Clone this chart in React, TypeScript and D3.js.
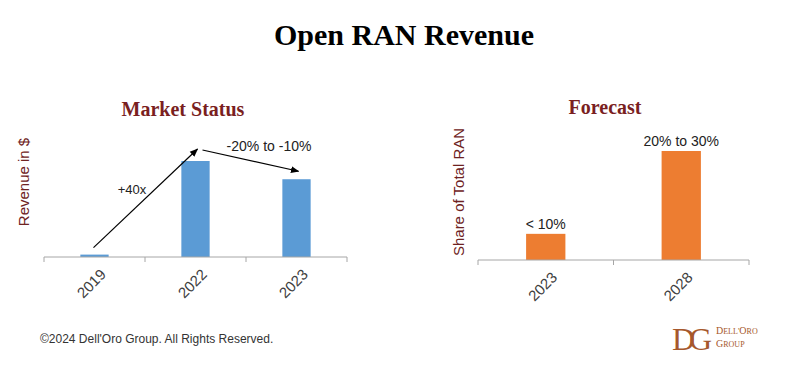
import React, { useRef, useEffect } from 'react';
import * as d3 from 'd3';

// Market status (relative revenue, arbitrary units)
const marketYears = ['2019', '2022', '2023'];
const marketRevenue = [2.5, 100, 81];

// Forecast (share of total RAN, %)
const forecastYears = ['2023', '2028'];
const forecastShare = [6, 25];
const forecastLabels = ['< 10%', '20% to 30%'];

const growthLabel = '+40x';
const declineLabel = '-20% to -10%';

const W = 799;
const H = 373;

const style = {
  titleFont: '"Liberation Serif", "Times New Roman", serif',
  sansFont: '"Liberation Sans", Arial, sans-serif',
  titleColor: '#7a1f1f',
  axisLabelColor: '#6e2222',
  tickColor: '#404040',
  axisLine: '#a6a6a6',
  blue: '#5b9bd5',
  orange: '#ed7d31',
  logo: '#a6582c',
};

const App: React.FC = () => {
  const leftAxis = useRef<SVGGElement>(null);
  const rightAxis = useRef<SVGGElement>(null);

  // left panel scales
  const xL = d3.scaleBand<string>().domain(marketYears).range([44, 347]).paddingInner(0.72).paddingOuter(0.36);
  const yL = d3.scaleLinear().domain([0, 100]).range([257, 161]);
  // right panel scales
  const xR = d3.scaleBand<string>().domain(forecastYears).range([478, 749]).paddingInner(0.71).paddingOuter(0.355);
  const yR = d3.scaleLinear().domain([0, 25]).range([260, 151]);

  useEffect(() => {
    const drawAxis = (g: SVGGElement | null, x: d3.ScaleBand<string>, y0: number, cats: string[]) => {
      if (!g) return;
      const sel = d3.select(g);
      sel.selectAll('*').remove();
      const [r0, r1] = x.range();
      const step = (r1 - r0) / cats.length;
      sel.append('line')
        .attr('x1', r0).attr('x2', r1).attr('y1', y0).attr('y2', y0)
        .attr('stroke', style.axisLine).attr('stroke-width', 1);
      d3.range(cats.length + 1).forEach(i => {
        sel.append('line')
          .attr('x1', r0 + i * step).attr('x2', r0 + i * step)
          .attr('y1', y0).attr('y2', y0 + 5)
          .attr('stroke', style.axisLine);
      });
      cats.forEach(c => {
        const cx = x(c)! + x.bandwidth() / 2;
        sel.append('text')
          .attr('transform', `translate(${cx + 5},${y0 + 11}) rotate(-45)`)
          .attr('text-anchor', 'end')
          .attr('dy', '0.7em')
          .attr('font-family', style.sansFont)
          .attr('font-size', 15)
          .attr('fill', style.tickColor)
          .text(c);
      });
    };
    drawAxis(leftAxis.current, xL, yL(0), marketYears);
    drawAxis(rightAxis.current, xR, yR(0), forecastYears);
  }, []);

  const cx = (s: d3.ScaleBand<string>, k: string) => s(k)! + s.bandwidth() / 2;

  // arrow endpoints derived from bars
  const a1 = { x1: cx(xL, '2019') - 1, y1: yL(marketRevenue[0]) - 7, x2: cx(xL, '2022') + 2, y2: yL(marketRevenue[1]) - 12 };
  const a2 = { x1: cx(xL, '2022') + 7, y1: yL(marketRevenue[1]) - 11, x2: cx(xL, '2023') + 2, y2: yL(marketRevenue[2]) - 8 };

  return (
    <svg width={W} height={H} style={{ position: 'absolute', left: 0, top: 0, background: '#fff' }}>
      <defs>
        <marker id="arr" viewBox="0 0 10 10" refX="9" refY="5" markerWidth="7" markerHeight="7" orient="auto">
          <path d="M0,1 L10,5 L0,9 z" fill="#000" />
        </marker>
      </defs>

      <text x={404} y={45} textAnchor="middle" fontFamily={style.titleFont} fontWeight="bold" fontSize={30} fill="#000">
        Open RAN Revenue
      </text>

      {/* Market status panel */}
      <text x={183} y={116} textAnchor="middle" fontFamily={style.titleFont} fontWeight="bold" fontSize={20} fill={style.titleColor}>
        Market Status
      </text>
      <text transform={`translate(29,182) rotate(-90)`} textAnchor="middle" fontFamily={style.sansFont} fontSize={15} fill={style.axisLabelColor}>
        Revenue in $
      </text>
      {marketYears.map((k, i) => (
        <rect key={k} x={xL(k)} y={yL(marketRevenue[i])} width={xL.bandwidth()} height={yL(0) - yL(marketRevenue[i])} fill={style.blue} />
      ))}
      <g ref={leftAxis} />
      <line {...a1} stroke="#000" strokeWidth={1.2} markerEnd="url(#arr)" />
      <line {...a2} stroke="#000" strokeWidth={1.2} markerEnd="url(#arr)" />
      <text x={132} y={194} textAnchor="middle" fontFamily={style.sansFont} fontSize={13} fill="#222">{growthLabel}</text>
      <text x={269} y={151} textAnchor="middle" fontFamily={style.sansFont} fontSize={14} fill="#222">{declineLabel}</text>

      {/* Forecast panel */}
      <text x={605} y={114} textAnchor="middle" fontFamily={style.titleFont} fontWeight="bold" fontSize={20} fill={style.titleColor}>
        Forecast
      </text>
      <text transform={`translate(464,192) rotate(-90)`} textAnchor="middle" fontFamily={style.sansFont} fontSize={15} fill={style.axisLabelColor}>
        Share of Total RAN
      </text>
      {forecastYears.map((k, i) => (
        <g key={k}>
          <rect x={xR(k)} y={yR(forecastShare[i])} width={xR.bandwidth()} height={yR(0) - yR(forecastShare[i])} fill={style.orange} />
          <text x={cx(xR, k)} y={yR(forecastShare[i]) - 5} textAnchor="middle" fontFamily={style.sansFont} fontSize={14} fill="#222">
            {forecastLabels[i]}
          </text>
        </g>
      ))}
      <g ref={rightAxis} />

      {/* footer */}
      <text x={40} y={343} fontFamily={style.sansFont} fontSize={12} fill="#333">
        ©2024 Dell'Oro Group. All Rights Reserved.
      </text>
      <g fontFamily={style.titleFont} fill={style.logo}>
        <text x={672} y={350} fontSize={32} letterSpacing={-6}>DG</text>
        <text x={716} y={334} fontSize={10}>D<tspan fontSize={8}>ELL'</tspan>O<tspan fontSize={8}>RO</tspan></text>
        <text x={716} y={347} fontSize={10}>G<tspan fontSize={8}>ROUP</tspan></text>
      </g>
    </svg>
  );
};

export default App;
